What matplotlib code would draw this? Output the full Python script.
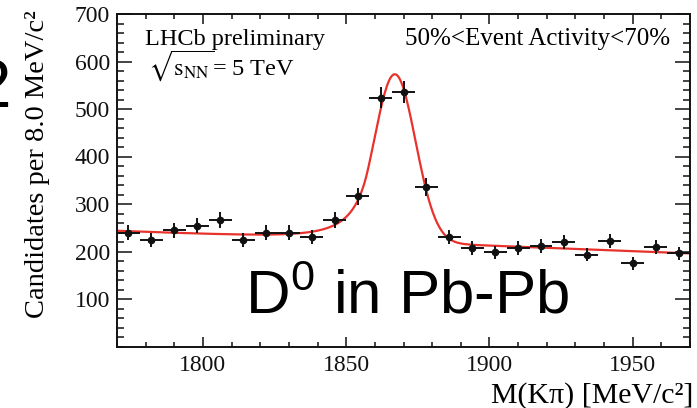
import numpy as np
import matplotlib.pyplot as plt
from matplotlib.ticker import MultipleLocator

# D0 -> K pi candidates, 8 MeV bins (bin centres) and counts
mass = [1774, 1782, 1790, 1798, 1806, 1814, 1822, 1830, 1838, 1846, 1854, 1862, 1870,
        1878, 1886, 1894, 1902, 1910, 1918, 1926, 1934, 1942, 1950, 1958, 1966]
counts = [240, 224, 245, 254, 266, 224, 240, 240, 230, 266, 316, 524, 536,
          336, 231, 208, 198, 207, 212, 220, 193, 222, 175, 209, 196]
half_bin = 4.0

# fit model: Crystal Ball signal + linear background (parameters)
peak_mean, peak_sigma, peak_amp = 1867.0, 7.2, 353.0
cb_alpha, cb_n = 1.3, 3.0
bkg_at_1770, bkg_slope = 243.0, -0.235

xlabels = [1800, 1850, 1900, 1950]
ylabels = [100, 200, 300, 400, 500, 600, 700]


def crystal_ball(x):
    t = (x - peak_mean) / peak_sigma
    a = cb_alpha
    coef = (cb_n / a) ** cb_n * np.exp(-0.5 * a * a)
    b = cb_n / a - a
    tail = coef * np.abs(b - t) ** (-cb_n)
    return peak_amp * np.where(t > -a, np.exp(-0.5 * t * t), tail)


plt.rcParams['font.family'] = ['Liberation Serif', 'DejaVu Serif']
plt.rcParams['mathtext.fontset'] = 'custom'
plt.rcParams['mathtext.rm'] = 'Liberation Sans'

fig = plt.figure(figsize=(6.97, 4.08), dpi=100)
ax = fig.add_axes([117 / 697, 61.5 / 408, 573 / 697, 332.5 / 408])

xf = np.linspace(1770, 1970, 500)
fit = crystal_ball(xf) + bkg_at_1770 + bkg_slope * (xf - 1770)
ax.plot(xf, fit, color='#e8322c', lw=1.6, zorder=2)

ax.errorbar(mass, counts, xerr=half_bin, yerr=np.sqrt(counts), fmt='o',
            color='#111111', ms=4.5, elinewidth=1.4, capsize=0, zorder=3)

ax.set_xlim(1770, 1970)
ax.set_ylim(0, 700)
ax.set_xticks(xlabels)
ax.set_yticks(ylabels)
ax.xaxis.set_minor_locator(MultipleLocator(10))
ax.yaxis.set_minor_locator(MultipleLocator(20))
ax.tick_params(which='both', direction='in', top=True, right=True,
               labelsize=17, width=1.1, colors='#111111')
ax.tick_params(axis='x', which='major', length=7.2, pad=6)
ax.tick_params(axis='x', which='minor', length=3.6)
ax.tick_params(axis='y', which='major', length=10.8, pad=5)
ax.tick_params(axis='y', which='minor', length=5)
for sp in ax.spines.values():
    sp.set_linewidth(1.4)
    sp.set_color('#111111')

ax.text(0.049, 0.907, 'LHCb preliminary', transform=ax.transAxes,
        fontsize=17.5, va='baseline', ha='left')
ax.text(0.054, 0.8165, r'$\sqrt{\mathrm{s}_{\mathrm{NN}}}$= 5 TeV', transform=ax.transAxes,
        fontsize=17.5, va='baseline', ha='left', math_fontfamily='stix')
ax.text(0.965, 0.907, '50%<Event Activity<70%', transform=ax.transAxes,
        fontsize=18, va='baseline', ha='right')

fig.text(693 / 697, 5 / 408, 'M(K\u03c0) [MeV/c\u00b2]', fontsize=21.5,
         ha='right', va='baseline')
fig.text(38 / 697, 398 / 408, 'Candidates per 8.0 MeV/c\u00b2', fontsize=20.5,
         rotation=90, ha='center', va='top')

# slide overlay text
fig.text(245 / 697, 95 / 408, r'D$^{\mathrm{0}}$ in Pb-Pb', fontsize=44.5,
         family='Liberation Sans', ha='left', va='baseline', math_fontfamily='custom')
fig.text(11 / 697, 301 / 408, '2', fontsize=50, family='Liberation Sans',
         ha='right', va='baseline')

fig.savefig('out.png', dpi=100)
